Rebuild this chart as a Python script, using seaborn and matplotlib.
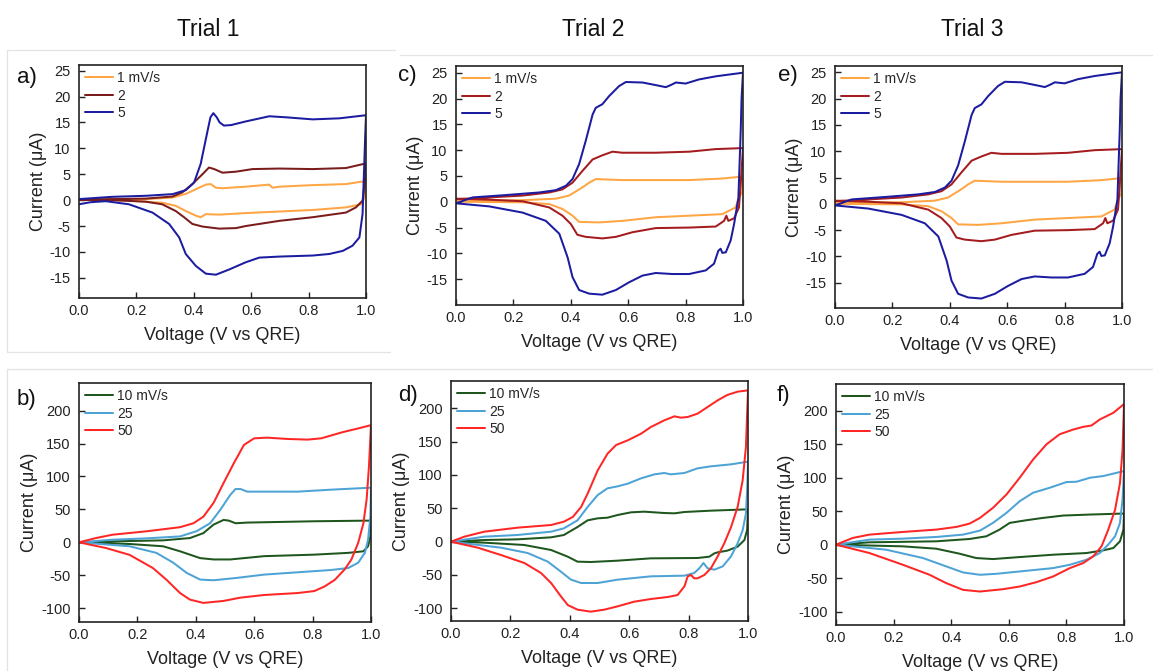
import matplotlib
matplotlib.use("Agg")
import matplotlib.pyplot as plt
from matplotlib.lines import Line2D
import seaborn as sns
import pandas as pd

# ---------------- data ----------------
# Top row: slow scan rates (uA); bottom row: fast scan rates (uA)
TOP_LABELS = ["1 mV/s", "2", "5"]
BOT_LABELS = ["10 mV/s", "25", "50"]
TRIALS = ["Trial 1", "Trial 2", "Trial 3"]
X_TICKS = [0.0, 0.2, 0.4, 0.6, 0.8, 1.0]
TOP_YTICKS = [-15, -10, -5, 0, 5, 10, 15, 20, 25]
BOT_YTICKS = [-100, -50, 0, 50, 100, 150, 200]

# Trial 1, slow rates
a_1_v = [0, 0.1, 0.233, 0.326, 0.372, 0.407, 0.442, 0.459, 0.477, 0.5, 0.581, 0.663, 0.674, 0.698, 0.814, 0.93, 1.0,
         0.995, 0.983, 0.93, 0.814, 0.698, 0.581, 0.488, 0.442, 0.424, 0.407, 0.372, 0.337, 0.29, 0.174, 0]
a_1_i = [0.1, 0.15, 0.2, 0.5, 1.2, 2.1, 3.0, 3.1, 2.4, 2.3, 2.6, 3.0, 2.4, 2.6, 2.9, 3.1, 3.7,
         0.5, -0.8, -1.4, -1.9, -2.2, -2.5, -2.8, -2.7, -3.3, -3.0, -2.1, -1.1, -0.5, -0.1, 0.1]
a_2_v = [0, 0.116, 0.233, 0.326, 0.36, 0.395, 0.43, 0.453, 0.471, 0.5, 0.547, 0.605, 0.698, 0.814, 0.93, 1.0,
         0.996, 0.988, 0.965, 0.93, 0.814, 0.698, 0.581, 0.547, 0.488, 0.43, 0.395, 0.366, 0.337, 0.29, 0.233, 0.116, 0]
a_2_i = [0.1, 0.2, 0.3, 0.7, 1.5, 3.1, 5.0, 6.3, 6.0, 5.3, 5.5, 6.0, 6.1, 6.0, 6.2, 7.1,
         3.5, -0.1, -1.4, -2.4, -3.3, -4.0, -5.0, -5.4, -5.5, -5.1, -4.6, -3.3, -2.1, -0.8, -0.3, 0.0, 0.1]
a_5_v = [0, 0.116, 0.233, 0.326, 0.372, 0.401, 0.424, 0.448, 0.458, 0.468, 0.48, 0.49, 0.505, 0.53, 0.581, 0.663,
         0.721, 0.814, 0.907, 1.0,
         0.997, 0.994, 0.988, 0.977, 0.953, 0.919, 0.872, 0.814, 0.698, 0.628, 0.581, 0.523, 0.477, 0.442, 0.407,
         0.372, 0.349, 0.314, 0.256, 0.174, 0.093, 0.04, 0]
a_5_i = [0.2, 0.64, 0.84, 1.16, 1.93, 3.4, 7.0, 13.4, 16.0, 16.8, 16.0, 15.0, 14.4, 14.5, 15.2, 16.2,
         16.0, 15.6, 15.8, 16.4,
         12.0, 7.0, -2.7, -7.2, -8.8, -9.8, -10.4, -10.7, -10.9, -11.1, -12.0, -13.4, -14.4, -14.2, -12.7,
         -10.4, -7.2, -4.6, -2.4, -0.8, -0.2, -0.4, -0.8]

# Trial 2 (and Trial 3, identical traces), slow rates
c_1_v = [0, 0.232, 0.348, 0.394, 0.441, 0.464, 0.487, 0.58, 0.696, 0.812, 0.928, 1.0,
         0.998, 0.986, 0.974, 0.928, 0.812, 0.696, 0.58, 0.499, 0.429, 0.406, 0.371, 0.325, 0.232, 0]
c_1_i = [0.2, 0.3, 0.6, 1.2, 2.8, 3.7, 4.4, 4.2, 4.2, 4.2, 4.5, 4.9,
         2.0, 0.8, -1.1, -2.4, -2.7, -3.0, -3.7, -4.0, -3.9, -2.7, -1.4, -0.45, -0.1, 0.0]
c_2_v = [0, 0.116, 0.232, 0.325, 0.371, 0.406, 0.441, 0.476, 0.51, 0.545, 0.58, 0.696, 0.812, 0.905, 1.0,
         0.996, 0.992, 0.986, 0.969, 0.949, 0.942, 0.934, 0.905, 0.812, 0.696, 0.615, 0.557, 0.51, 0.452,
         0.423, 0.4, 0.371, 0.325, 0.232, 0.116, 0]
c_2_i = [0.5, 0.84, 1.2, 1.8, 2.4, 3.7, 6.0, 8.2, 9.0, 9.7, 9.5, 9.5, 9.7, 10.2, 10.4,
         7.0, 3.4, -1.1, -3.2, -3.7, -2.7, -3.7, -4.8, -5.0, -5.1, -5.9, -6.8, -7.1, -6.8,
         -6.4, -4.3, -2.7, -1.1, 0.1, 0.4, 0.6]
c_5_v = [0, 0.058, 0.174, 0.29, 0.348, 0.383, 0.406, 0.429, 0.452, 0.476, 0.487, 0.51, 0.534, 0.568, 0.592,
         0.65, 0.696, 0.731, 0.748, 0.766, 0.8, 0.847, 0.905, 1.0,
         0.995, 0.992, 0.984, 0.969, 0.957, 0.94, 0.928, 0.922, 0.914, 0.899, 0.87, 0.812, 0.754, 0.696,
         0.65, 0.603, 0.557, 0.51, 0.464, 0.429, 0.406, 0.389, 0.36, 0.313, 0.232, 0.116, 0]
c_5_i = [-0.3, 0.84, 1.3, 1.8, 2.25, 3.1, 4.4, 7.3, 11.8, 16.9, 18.2, 18.9, 20.5, 22.4, 23.2,
         23.1, 22.6, 22.2, 22.6, 23.1, 22.9, 23.7, 24.3, 25.0,
         20.0, 13.7, 0.8, -4.3, -7.5, -9.8, -9.9, -9.1, -9.5, -12.0, -13.3, -14.0, -14.0, -13.8,
         -14.3, -15.6, -17.1, -18.0, -17.8, -17.1, -14.6, -10.8, -6.2, -3.7, -2.1, -0.9, -0.3]

# Trial 1, fast rates
b_10_v = [0, 0.115, 0.288, 0.38, 0.426, 0.461, 0.495, 0.513, 0.536, 0.576, 0.691, 0.806, 1.0,
          0.998, 0.99, 0.974, 0.922, 0.806, 0.634, 0.518, 0.461, 0.415, 0.346, 0.288, 0.173, 0]
b_10_i = [0, 1.5, 3, 6.5, 14, 27, 34, 33, 29, 30, 31, 32, 33,
          9, -6, -13.6, -16, -18.7, -21, -26, -26, -24, -13.6, -6, -2.5, 0]
b_25_v = [0, 0.115, 0.23, 0.346, 0.403, 0.449, 0.484, 0.518, 0.536, 0.553, 0.576, 0.645, 0.749, 0.864, 1.0,
          0.998, 0.99, 0.979, 0.956, 0.922, 0.864, 0.749, 0.634, 0.541, 0.461, 0.415, 0.369, 0.323, 0.265, 0.173, 0]
b_25_i = [0, 4, 6, 9, 17, 29, 49.5, 72, 81, 81, 77, 77, 77, 80, 83,
          39, 4, -16, -31, -39, -42, -45.5, -49, -54, -57.6, -56.6, -46.5, -31, -16, -6, 0]
b_50_v = [0, 0.058, 0.115, 0.23, 0.346, 0.392, 0.426, 0.461, 0.495, 0.53, 0.565, 0.6, 0.645, 0.714, 0.783,
          0.83, 0.9, 0.956, 1.0,
          0.993, 0.985, 0.974, 0.956, 0.933, 0.91, 0.876, 0.841, 0.806, 0.749, 0.634, 0.553, 0.495, 0.426,
          0.38, 0.346, 0.3, 0.253, 0.173, 0.092, 0]
b_50_i = [0, 6.5, 11.6, 16.7, 23, 29, 39, 60, 90, 120, 148, 158, 159, 157, 156,
          158, 167, 173, 178,
          115, 65, 29, -1, -26, -41, -57, -67, -74, -77, -80, -84, -89, -92,
          -87, -77, -57, -39, -19, -8.6, 0]

# Trial 2, fast rates
d_10_v = [0, 0.112, 0.224, 0.337, 0.38, 0.426, 0.46, 0.494, 0.527, 0.561, 0.606, 0.65, 0.718, 0.752, 0.786,
          0.875, 1.0,
          0.997, 0.988, 0.965, 0.93, 0.898, 0.887, 0.87, 0.83, 0.673, 0.561, 0.471, 0.426, 0.393, 0.337,
          0.247, 0.112, 0]
d_10_i = [0, 2.5, 3.5, 6.5, 10, 22, 32, 35, 36, 40, 44, 45, 43, 42.5, 44.5,
          46.5, 48.5,
          17.5, 2.5, -7.5, -13.5, -16, -17.5, -22.5, -24.5, -25, -28.5, -30.5, -30, -22.5, -12.5,
          -5, -1.5, 0]
d_25_v = [0, 0.112, 0.224, 0.337, 0.38, 0.426, 0.46, 0.494, 0.527, 0.561, 0.595, 0.64, 0.685, 0.718, 0.74,
          0.786, 0.83, 0.875, 0.943, 1.0,
          0.997, 0.993, 0.982, 0.965, 0.943, 0.915, 0.887, 0.864, 0.85, 0.836, 0.819, 0.786, 0.673, 0.561,
          0.494, 0.438, 0.404, 0.37, 0.326, 0.258, 0.168, 0]
d_25_i = [0, 7.5, 10, 15, 20, 32, 52, 70, 80, 83, 87, 95, 101, 103, 101,
          103, 110, 113, 116, 120,
          77, 42, 17, -2.5, -22, -37, -42, -40, -32, -40, -47, -51, -52, -57,
          -62, -62, -57, -45, -30, -17, -9, 0]
d_50_v = [0, 0.045, 0.112, 0.224, 0.337, 0.38, 0.41, 0.438, 0.46, 0.494, 0.527, 0.556, 0.595, 0.64, 0.673,
          0.718, 0.752, 0.774, 0.797, 0.83, 0.864, 0.898, 0.93, 0.965, 1.0,
          0.993, 0.982, 0.965, 0.943, 0.92, 0.898, 0.875, 0.853, 0.83, 0.819, 0.808, 0.797, 0.786, 0.763,
          0.73, 0.673, 0.617, 0.561, 0.516, 0.471, 0.426, 0.393, 0.37, 0.337, 0.303, 0.247, 0.168, 0.09, 0]
d_50_i = [0, 7.5, 15, 21, 25, 30, 37, 52, 72, 107, 132, 145, 152, 162, 172,
          182, 188, 186, 187, 192, 202, 212, 220, 225, 227,
          142, 92, 52, 22, -2.5, -22, -40, -50, -55, -55, -50, -52, -67, -80,
          -83, -86, -90, -97, -102, -105, -102, -95, -82, -62, -47, -32, -20, -9, 0]

# Trial 3, fast rates
f_10_v = [0, 0.116, 0.348, 0.464, 0.522, 0.568, 0.603, 0.661, 0.719, 0.789, 0.882, 1.0,
          0.998, 0.986, 0.963, 0.928, 0.87, 0.754, 0.638, 0.545, 0.487, 0.429, 0.348, 0.232, 0]
f_10_i = [0, 3.5, 5, 8.5, 12.5, 22.5, 32.5, 36.5, 40, 43.5, 45, 46.5,
          22.5, 5, -5, -8.5, -12.5, -15, -18.5, -21.5, -20, -13.5, -6, -2.5, 0]
f_25_v = [0, 0.116, 0.232, 0.348, 0.441, 0.5, 0.545, 0.592, 0.638, 0.684, 0.742, 0.8, 0.835, 0.882, 0.928, 1.0,
          0.995, 0.986, 0.969, 0.945, 0.916, 0.87, 0.812, 0.754, 0.638, 0.557, 0.5, 0.441, 0.383, 0.302, 0.174, 0]
f_25_i = [0, 7.5, 9, 11.5, 15, 21, 32.5, 47.5, 65, 77.5, 85, 93.5, 94, 100, 102.5, 110,
          67.5, 32.5, 12.5, 0, -12.5, -22.5, -30, -35, -40, -43.5, -45, -41.5, -32.5, -20, -7.5, 0]
f_50_v = [0, 0.058, 0.116, 0.232, 0.348, 0.418, 0.464, 0.5, 0.545, 0.592, 0.638, 0.684, 0.731, 0.777, 0.824,
          0.858, 0.887, 0.916, 0.963, 1.0,
          0.995, 0.986, 0.969, 0.945, 0.922, 0.893, 0.858, 0.812, 0.754, 0.696, 0.638, 0.58, 0.5, 0.441,
          0.383, 0.325, 0.232, 0.116, 0]
f_50_i = [0, 10, 15, 19, 22.5, 26.5, 31.5, 40, 55, 75, 100, 127, 150, 165, 172,
          176, 178, 187, 197, 210,
          142, 92, 52, 22, -2.5, -17.5, -27.5, -35, -47.5, -56, -62.5, -66.5, -70, -67.5,
          -57.5, -45, -30, -12.5, 0]

# ---------------- style ----------------
sns.set_theme(style="ticks")
plt.rcParams["font.family"] = ["Liberation Sans", "DejaVu Sans"]
plt.rcParams["axes.unicode_minus"] = False

W, H = 1153, 671
fig = plt.figure(figsize=(W / 100, H / 100), dpi=100)
fig.patch.set_facecolor("white")

ORANGE = "#FFA544"
MAROON_1 = "#7B1C1C"
MAROON_2 = "#A51C1F"
NAVY = "#1C1CA0"
GREEN = "#1E561E"
LBLUE = "#4DA3D6"
RED = "#FF2626"


def px_axes(l, t, r, b):
    return fig.add_axes([l / W, 1 - b / H, (r - l) / W, (b - t) / H])


panels = [
    # letter, box(l,t,r,b), curves, labels, colors, ylim, yticks, letter pos
    ("a)", (79, 65, 366, 298), [(a_1_v, a_1_i), (a_2_v, a_2_i), (a_5_v, a_5_i)],
     TOP_LABELS, [ORANGE, MAROON_1, NAVY], (-18.9, 26.1), TOP_YTICKS, (17, 77)),
    ("c)", (456, 66, 743, 305), [(c_1_v, c_1_i), (c_2_v, c_2_i), (c_5_v, c_5_i)],
     TOP_LABELS, [ORANGE, MAROON_2, NAVY], (-20.0, 26.3), TOP_YTICKS, (398, 76)),
    ("e)", (835, 66, 1122, 308), [(c_1_v, c_1_i), (c_2_v, c_2_i), (c_5_v, c_5_i)],
     TOP_LABELS, [ORANGE, MAROON_2, NAVY], (-19.8, 26.2), TOP_YTICKS, (778, 76)),
    ("b)", (79, 383, 371, 622), [(b_10_v, b_10_i), (b_25_v, b_25_i), (b_50_v, b_50_i)],
     BOT_LABELS, [GREEN, LBLUE, RED], (-121, 242), BOT_YTICKS, (17, 400)),
    ("d)", (451, 381, 748, 621), [(d_10_v, d_10_i), (d_25_v, d_25_i), (d_50_v, d_50_i)],
     BOT_LABELS, [GREEN, LBLUE, RED], (-119, 241), BOT_YTICKS, (398, 395)),
    ("f)", (836, 384, 1124, 625), [(f_10_v, f_10_i), (f_25_v, f_25_i), (f_50_v, f_50_i)],
     BOT_LABELS, [GREEN, LBLUE, RED], (-120, 240), BOT_YTICKS, (777, 395)),
]

for letter, box, curves, labels, colors, ylim, yticks, lpos in panels:
    ax = px_axes(*box)
    rows = []
    for lab, (vv, ii) in zip(labels, curves):
        for k, (v, i) in enumerate(zip(vv, ii)):
            rows.append({"V": v, "I": i, "rate": lab, "k": k})
    df = pd.DataFrame(rows)
    sns.lineplot(data=df, x="V", y="I", hue="rate", hue_order=labels,
                 palette=colors, sort=False, estimator=None,
                 linewidth=1.45, ax=ax)
    sns.move_legend(ax, "upper left", title=None, frameon=False, fontsize=10,
                    handlelength=2.0, handletextpad=0.3, labelspacing=0.25,
                    borderaxespad=0.25, borderpad=0.2)
    ax.set_xlim(0, 1.0)
    ax.set_ylim(*ylim)
    ax.set_xticks(X_TICKS)
    ax.set_xticklabels([f"{t:.1f}" for t in X_TICKS])
    ax.set_yticks(yticks)
    ax.set_yticklabels([str(t) for t in yticks])
    ax.tick_params(axis="both", direction="in", length=4, width=1,
                   labelsize=10.5, colors="#222222")
    ax.tick_params(axis="x", pad=4)
    ax.tick_params(axis="y", pad=6)
    ax.set_xlabel("Voltage (V vs QRE)", fontsize=13, labelpad=7, color="#222222")
    ax.set_ylabel("Current (\u03bcA)", fontsize=13, labelpad=2, color="#222222")
    for s in ax.spines.values():
        s.set_visible(True)
        s.set_linewidth(1.2)
        s.set_color("#222222")
    fig.text(lpos[0] / W, 1 - lpos[1] / H, letter, fontsize=16,
             ha="left", va="center", color="#111111")

for name, xc in zip(TRIALS, [208, 593, 972]):
    fig.text(xc / W, 1 - 30 / H, name, fontsize=16.5, ha="center", va="center",
             color="#111111")

# faint separator lines of the composed figure
seps = [((7, 50), (395, 50)), ((400, 55), (1153, 55)), ((7, 50), (7, 352)),
        ((7, 352), (390, 352)), ((7, 369), (1153, 369)), ((7, 369), (7, 671))]
for (x0, y0), (x1, y1) in seps:
    fig.add_artist(Line2D([x0 / W, x1 / W], [1 - y0 / H, 1 - y1 / H],
                          transform=fig.transFigure, color="#e3e3e3", lw=0.9))

fig.savefig("out.png", dpi=100, facecolor="white")
